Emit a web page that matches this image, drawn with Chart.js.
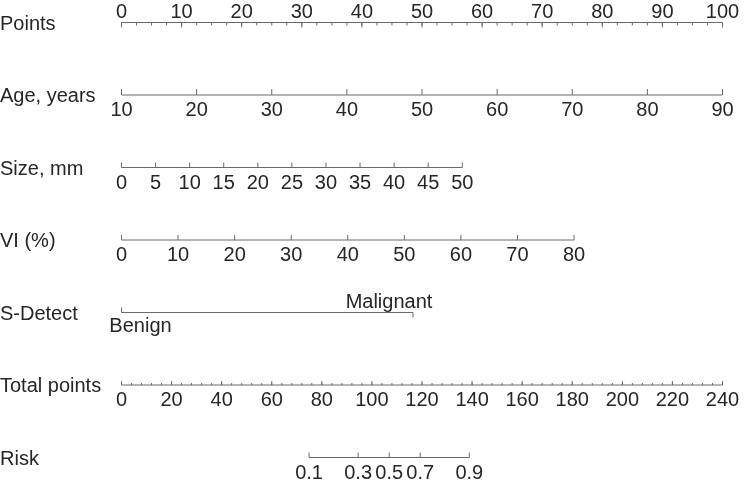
<!DOCTYPE html>
<html>
<head>
<meta charset="utf-8">
<script src="https://cdn.jsdelivr.net/npm/chart.js@4.4.1/dist/chart.umd.min.js"></script>
<style>
  html, body { margin: 0; padding: 0; background: #fff; }
  #wrap { width: 746px; height: 480px; position: relative; }
</style>
</head>
<body>
<div id="wrap"><canvas id="nomo"></canvas></div>
<script>
// nomogram rows, top to bottom
var rowNames = ['Points', 'Age, years', 'Size, mm', 'VI (%)', 'S-Detect', 'Total points', 'Risk'];

// Points scale
var pointsTicks = [0, 10, 20, 30, 40, 50, 60, 70, 80, 90, 100];
var pointsMinorStep = 2.5;

// Age, years: 10 -> 0 pts, 90 -> 100 pts
var ageTicks = [10, 20, 30, 40, 50, 60, 70, 80, 90];
var ageRange = [10, 90];
var agePoints = [0, 100];

// Size, mm
var sizeTicks = [0, 5, 10, 15, 20, 25, 30, 35, 40, 45, 50];
var sizeRange = [0, 50];
var sizePoints = [0, 56.7];

// VI (%)
var viTicks = [0, 10, 20, 30, 40, 50, 60, 70, 80];
var viRange = [0, 80];
var viPoints = [0, 75.3];

// S-Detect
var sDetectLevels = ['Benign', 'Malignant'];
var sDetectPoints = [0, 48.5];

// Total points
var totalTicks = [0, 20, 40, 60, 80, 100, 120, 140, 160, 180, 200, 220, 240];
var totalMinorStep = 4;
var totalRange = [0, 240];
var totalPoints = [0, 100];

// Risk, placed on the total points scale
var riskTicks = [0.1, 0.3, 0.5, 0.7, 0.9];
var riskTotal = [74.9, 94.5, 106.9, 119.3, 138.9];

var LINE = '#6a6a6a';
var TEXT = '#262626';
var FONT = '20px "Liberation Sans", Arial, Helvetica, sans-serif';

function mapper(range, pts){
    return function(v){
        return pts[0] + (v - range[0]) / (range[1] - range[0]) * (pts[1] - pts[0]);
    };
}
var agePt = mapper(ageRange, agePoints);
var sizePt = mapper(sizeRange, sizePoints);
var viPt = mapper(viRange, viPoints);
var totalPt = mapper(totalRange, totalPoints);

function minorList(first, last, step){
    var out = [];
    for (var v = first; v <= last + 1e-9; v += step) out.push(v);
    return out;
}

// one entry per row: ticks in points units, labels, tick direction
var rows = [
    {row: 0, pts: pointsTicks.slice(), labels: pointsTicks.map(String), dir: 1, len: 5, above: true,
     minor: minorList(0, 100, pointsMinorStep), minorLen: 3},
    {row: 1, pts: ageTicks.map(agePt), labels: ageTicks.map(String), dir: -1, len: 6},
    {row: 2, pts: sizeTicks.map(sizePt), labels: sizeTicks.map(String), dir: -1, len: 5},
    {row: 3, pts: viTicks.map(viPt), labels: viTicks.map(String), dir: -1, len: 5},
    {row: 4, pts: sDetectPoints.slice(), labels: sDetectLevels, dir: -1, len: 5, categorical: true},
    {row: 5, pts: totalTicks.map(totalPt), labels: totalTicks.map(String), dir: -1, len: 4,
     minor: minorList(0, 240, totalMinorStep).map(totalPt), minorLen: 2},
    {row: 6, pts: riskTotal.map(totalPt), labels: riskTicks.map(String), dir: -1, len: 5}
];

var datasets = rows.map(function(r){
    return {
        data: [{x: r.pts[0], y: r.row}, {x: r.pts[r.pts.length - 1], y: r.row}],
        borderColor: LINE,
        borderWidth: 1,
        pointRadius: 0,
        clip: false
    };
});

var nomoPlugin = {
    id: 'nomo',
    afterDatasetsDraw: function(chart){
        var ctx = chart.ctx;
        var xs = chart.scales.x, ys = chart.scales.y;
        ctx.save();
        ctx.strokeStyle = LINE;
        ctx.lineWidth = 1;
        ctx.fillStyle = TEXT;
        ctx.font = FONT;
        ctx.textBaseline = 'alphabetic';
        rows.forEach(function(r){
            var y = ys.getPixelForValue(r.row);
            // row title
            ctx.textAlign = 'left';
            ctx.fillText(rowNames[r.row], 0, y + 7);
            // minor ticks
            if (r.minor){
                ctx.beginPath();
                r.minor.forEach(function(p){
                    var x = xs.getPixelForValue(p);
                    ctx.moveTo(x, y);
                    ctx.lineTo(x, y + r.dir * r.minorLen);
                });
                ctx.stroke();
            }
            // major ticks + labels
            r.pts.forEach(function(p, i){
                var x = xs.getPixelForValue(p);
                var d = r.dir;
                if (r.categorical && i == 1) d = 1;
                ctx.beginPath();
                ctx.moveTo(x, y);
                ctx.lineTo(x, y + d * r.len);
                ctx.stroke();
                ctx.textAlign = 'center';
                if (r.categorical){
                    if (i == 0){
                        ctx.fillText(r.labels[i], x + 19, y + 19);
                    } else {
                        ctx.fillText(r.labels[i], x - 24, y - 5);
                    }
                } else if (r.above){
                    ctx.fillText(r.labels[i], x, y - 5);
                } else {
                    ctx.fillText(r.labels[i], x, y + 21);
                }
            });
        });
        ctx.restore();
    }
};

var nomoChart = new Chart(document.getElementById('nomo').getContext('2d'), {
    type: 'line',
    data: {datasets: datasets},
    options: {
        responsive: true,
        maintainAspectRatio: false,
        animation: false,
        layout: {padding: {left: 121.5, right: 23.5, top: 22.5, bottom: 22.5}},
        scales: {
            x: {type: 'linear', min: 0, max: 100, display: false},
            y: {type: 'linear', min: 0, max: 6, reverse: true, display: false}
        },
        plugins: {
            legend: {display: false},
            tooltip: {enabled: false}
        }
    },
    plugins: [nomoPlugin]
});
</script>
</body>
</html>
